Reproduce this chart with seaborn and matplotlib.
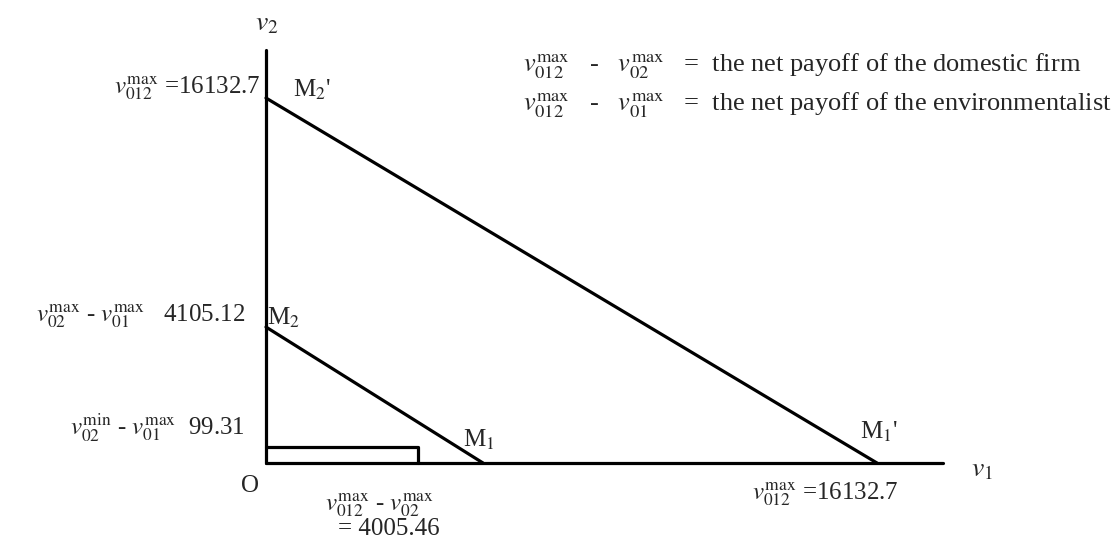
import pandas as pd
import seaborn as sns
import matplotlib
matplotlib.use("Agg")
import matplotlib.pyplot as plt

# values shown in the diagram
v_total = 16132.7        # v_012^max
net_domestic = 4005.46   # v_012^max - v_02^max
net_second = 4105.12
gap = 99.31

# schematic positions (diagram is not to scale)
m1_x = 5730
m2_y = 6010
rect_h = 700
x_axis_end = 17876
y_axis_end = 18254

sns.set_theme(style="white")
plt.rcParams["font.family"] = ["Liberation Serif", "DejaVu Serif"]
plt.rcParams["mathtext.fontset"] = "stix"

segs = pd.DataFrame({
    "seg": ["xaxis", "xaxis", "yaxis", "yaxis",
            "outer", "outer", "inner", "inner",
            "rect", "rect", "rect"],
    "x": [0, x_axis_end, 0, 0,
          0, v_total, 0, m1_x,
          0, net_domestic, net_domestic],
    "y": [0, 0, 0, y_axis_end,
          v_total, 0, m2_y, 0,
          rect_h, rect_h, 0],
})

fig = plt.figure(figsize=(11.12, 5.46), dpi=100)
ax = fig.add_axes([0, 0, 1, 1])

# pixel layout of the original: origin at (266, 463)
ox, oy = 266, 463
sx = v_total / (877 - ox)
sy = v_total / (oy - 98)
ax.set_xlim(-ox * sx, (1112 - ox) * sx)
ax.set_ylim(-(546 - oy) * sy, oy * sy)


def at(px, py):
    return (px - ox) * sx, (oy - py) * sy


sns.lineplot(data=segs, x="x", y="y", units="seg", estimator=None, sort=False,
             color="black", linewidth=2.3, ax=ax, legend=False)
ax.set_axis_off()

fs = 18
M = r"\mathrm{max}"

ax.text(*at(267, 24), r"$v_2$", fontsize=fs + 2, ha="center", va="center")
ax.text(*at(982, 470), r"$v_1$", fontsize=fs + 2, ha="center", va="center")
ax.text(*at(250, 486), "O", fontsize=fs, ha="center", va="center")

# labels on the vertical axis
ax.text(*at(261, 88), r"$v_{012}^{%s}$ =%s" % (M, v_total), fontsize=fs,
        ha="right", va="center")
ax.text(*at(245, 316), r"$v_{02}^{%s}$ - $v_{01}^{%s}$   %.2f" % (M, M, net_second),
        fontsize=fs, ha="right", va="center")
ax.text(*at(245, 427), r"$v_{02}^{\mathrm{min}}$ - $v_{01}^{%s}$  %.2f" % (M, gap),
        fontsize=fs, ha="right", va="center")

# labels under the horizontal axis
ax.text(*at(380, 505), r"$v_{012}^{%s}$ - $v_{02}^{%s}$" % (M, M), fontsize=fs,
        ha="center", va="center")
ax.text(*at(338, 529), "= %.2f" % net_domestic, fontsize=fs, ha="left", va="center")
ax.text(*at(752, 494), r"$v_{012}^{%s}$ =%s" % (M, v_total), fontsize=fs,
        ha="left", va="center")

# point names
ax.text(*at(293, 90), r"M$_2$'", fontsize=fs, ha="left", va="center")
ax.text(*at(267, 318), r"M$_2$", fontsize=fs, ha="left", va="center")
ax.text(*at(463, 440), r"M$_1$", fontsize=fs, ha="left", va="center")
ax.text(*at(860, 432), r"M$_1$'", fontsize=fs, ha="left", va="center")

# definitions at top right
ax.text(*at(523, 66), r"$v_{012}^{%s}$   -   $v_{02}^{%s}$   =  the net payoff of the domestic firm" % (M, M),
        fontsize=fs + 1, ha="left", va="center")
ax.text(*at(523, 105), r"$v_{012}^{%s}$   -   $v_{01}^{%s}$   =  the net payoff of the environmentalist" % (M, M),
        fontsize=fs + 1, ha="left", va="center")

fig.savefig("out.png", dpi=100)
